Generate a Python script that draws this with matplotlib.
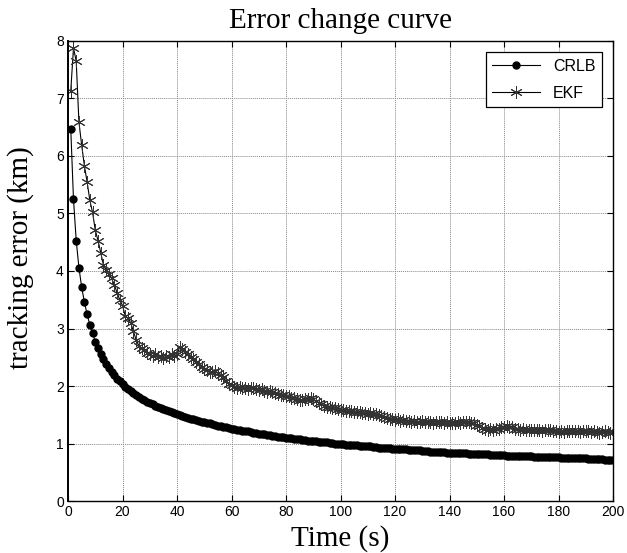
import matplotlib
matplotlib.use("Agg")
import matplotlib.pyplot as plt
import numpy as np

time_s = list(range(1, 201))

crlb = [
    6.47, 5.25, 4.53, 4.06, 3.72, 3.46, 3.25, 3.06, 2.92, 2.77,
    2.66, 2.56, 2.47, 2.39, 2.32, 2.25, 2.19, 2.13, 2.08, 2.03,
    1.99, 1.95, 1.91, 1.87, 1.84, 1.81, 1.78, 1.76, 1.73, 1.71,
    1.69, 1.66, 1.64, 1.62, 1.60, 1.58, 1.56, 1.54, 1.53, 1.51,
    1.49, 1.48, 1.46, 1.45, 1.43, 1.42, 1.41, 1.39, 1.38, 1.37,
    1.36, 1.35, 1.34, 1.32, 1.31, 1.30, 1.29, 1.28, 1.27, 1.26,
    1.25, 1.24, 1.23, 1.22, 1.21, 1.21, 1.20, 1.19, 1.18, 1.17,
    1.16, 1.16, 1.15, 1.14, 1.13, 1.13, 1.12, 1.11, 1.11, 1.10,
    1.09, 1.09, 1.08, 1.08, 1.07, 1.06, 1.06, 1.05, 1.05, 1.04,
    1.04, 1.03, 1.03, 1.02, 1.02, 1.01, 1.01, 1.00, 1.00, 0.99,
    0.99, 0.98, 0.98, 0.98, 0.97, 0.97, 0.96, 0.96, 0.95, 0.95,
    0.95, 0.94, 0.94, 0.93, 0.93, 0.93, 0.92, 0.92, 0.91, 0.91,
    0.91, 0.90, 0.90, 0.90, 0.89, 0.89, 0.88, 0.88, 0.88, 0.87,
    0.87, 0.87, 0.86, 0.86, 0.86, 0.85, 0.85, 0.85, 0.84, 0.84,
    0.84, 0.84, 0.83, 0.83, 0.83, 0.83, 0.82, 0.82, 0.82, 0.82,
    0.81, 0.81, 0.81, 0.81, 0.80, 0.80, 0.80, 0.80, 0.80, 0.80,
    0.79, 0.79, 0.79, 0.79, 0.79, 0.78, 0.78, 0.78, 0.78, 0.78,
    0.77, 0.77, 0.77, 0.77, 0.77, 0.76, 0.76, 0.76, 0.76, 0.76,
    0.75, 0.75, 0.75, 0.75, 0.75, 0.74, 0.74, 0.74, 0.74, 0.74,
    0.73, 0.73, 0.73, 0.73, 0.73, 0.73, 0.72, 0.72, 0.72, 0.72,
]

ekf = [
    7.13, 7.88, 7.65, 6.59, 6.19, 5.83, 5.55, 5.23, 5.02, 4.71,
    4.53, 4.32, 4.10, 4.02, 3.95, 3.87, 3.76, 3.62, 3.50, 3.40,
    3.22, 3.18, 3.10, 2.95, 2.80, 2.70, 2.66, 2.62, 2.58, 2.55,
    2.52, 2.56, 2.50, 2.52, 2.48, 2.53, 2.50, 2.55, 2.52, 2.56,
    2.68, 2.65, 2.60, 2.55, 2.50, 2.47, 2.42, 2.38, 2.33, 2.30,
    2.28, 2.25, 2.24, 2.26, 2.23, 2.20, 2.15, 2.08, 2.03, 2.01,
    1.99, 1.97, 1.98, 1.96, 1.97, 1.95, 1.97, 1.96, 1.94, 1.93,
    1.94, 1.92, 1.90, 1.91, 1.89, 1.87, 1.86, 1.85, 1.84, 1.83,
    1.82, 1.80, 1.79, 1.77, 1.76, 1.75, 1.77, 1.78, 1.79, 1.77,
    1.74, 1.71, 1.68, 1.66, 1.64, 1.63, 1.62, 1.61, 1.60, 1.59,
    1.58, 1.57, 1.56, 1.57, 1.55, 1.54, 1.55, 1.53, 1.53, 1.52,
    1.53, 1.51, 1.52, 1.50, 1.48, 1.46, 1.44, 1.43, 1.42, 1.41,
    1.42, 1.40, 1.41, 1.39, 1.40, 1.38, 1.39, 1.38, 1.37, 1.39,
    1.38, 1.37, 1.38, 1.36, 1.37, 1.38, 1.37, 1.36, 1.37, 1.36,
    1.35, 1.36, 1.37, 1.36, 1.37, 1.38, 1.37, 1.36, 1.35, 1.33,
    1.30, 1.27, 1.25, 1.24, 1.25, 1.24, 1.25, 1.26, 1.28, 1.29,
    1.30, 1.29, 1.28, 1.26, 1.25, 1.24, 1.25, 1.24, 1.23, 1.24,
    1.23, 1.24, 1.23, 1.22, 1.23, 1.24, 1.23, 1.22, 1.21, 1.20,
    1.21, 1.20, 1.21, 1.22, 1.21, 1.22, 1.21, 1.20, 1.21, 1.22,
    1.21, 1.20, 1.21, 1.20, 1.19, 1.20, 1.21, 1.20, 1.19, 1.20,
]

x_ticks = [0, 20, 40, 60, 80, 100, 120, 140, 160, 180, 200]
y_ticks = [0, 1, 2, 3, 4, 5, 6, 7, 8]

serif = ["Liberation Serif", "DejaVu Serif"]
sans = ["Liberation Sans", "DejaVu Sans"]

fig = plt.figure(figsize=(6.27, 5.53), dpi=100)
ax = fig.add_axes([0.1085, 0.094, 0.8692, 0.8319])

ax.plot(time_s, crlb, color="black", linewidth=0.8, marker="o",
        markersize=5, label="CRLB")
ax.plot(time_s, ekf, color="black", linewidth=0.8, marker=(6, 2, 0),
        markersize=9, markeredgewidth=0.7, markeredgecolor="#333333",
        label="EKF")

ax.set_xlim(0, 200)
ax.set_ylim(0, 8)
ax.set_xticks(x_ticks)
ax.set_yticks(y_ticks)
ax.tick_params(direction="in", top=True, right=True, length=4, width=0.8,
               labelsize=10, pad=3)
for lab in ax.get_xticklabels() + ax.get_yticklabels():
    lab.set_family(sans)

ax.grid(True, color="#888888", linestyle=(0, (1, 1)), linewidth=0.7)
for s in ax.spines.values():
    s.set_linewidth(1.0)
    s.set_color("black")
ax.spines["left"].set_linewidth(1.4)

ax.set_title("Error change curve", family=serif, fontsize=21, pad=9)
ax.set_xlabel("Time (s)", family=serif, fontsize=21, labelpad=4)
ax.set_ylabel("tracking error (km)", family=serif, fontsize=21, labelpad=16)
ax.yaxis.label.set_y(0.53)

leg = ax.legend(loc="upper right", prop={"family": sans, "size": 11.5},
                fancybox=False, edgecolor="black", framealpha=1,
                handlelength=3.0, labelspacing=0.75, borderaxespad=0.7)
leg.get_frame().set_linewidth(0.9)

fig.savefig("out.png", dpi=100)
